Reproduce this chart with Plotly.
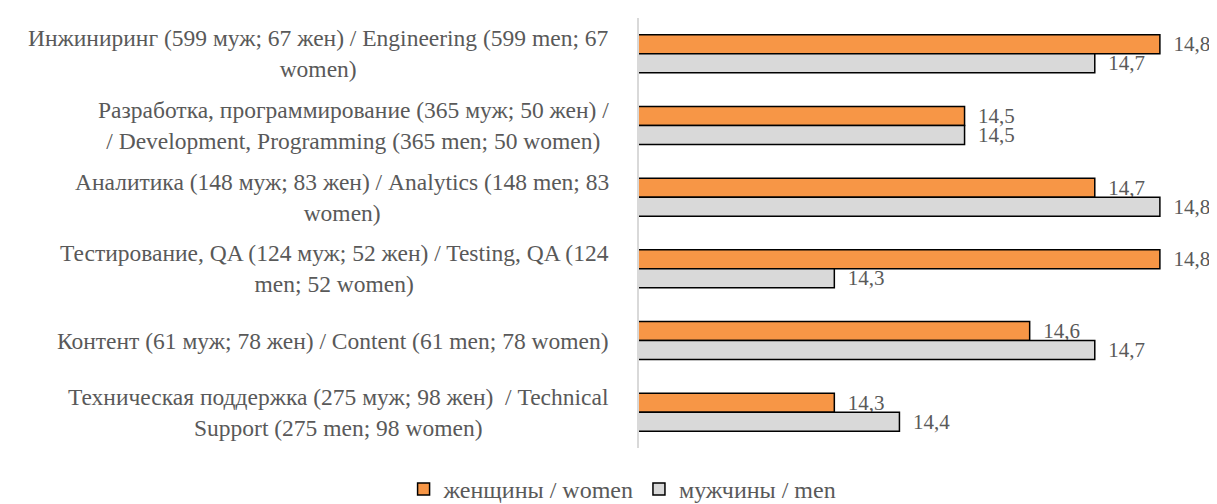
import plotly.graph_objects as go

categories = [
    "Инжиниринг (599 муж; 67 жен) / Engineering (599 men; 67<br>women)",
    "Разработка, программирование (365 муж; 50 жен) /<br>/ Development, Programming (365 men; 50 women)",
    "Аналитика (148 муж; 83 жен) / Analytics (148 men; 83<br>women)",
    "Тестирование, QA (124 муж; 52 жен) / Testing, QA (124<br>men; 52 women)",
    "Контент (61 муж; 78 жен) / Content (61 men; 78 women)",
    "Техническая поддержка (275 муж; 98 жен)  / Technical<br>Support (275 men; 98 women)",
]
women = [14.8, 14.5, 14.7, 14.8, 14.6, 14.3]
men = [14.7, 14.5, 14.8, 14.3, 14.7, 14.4]
series_names = ["женщины / women", "мужчины / men"]

FONT = "Liberation Serif, Times New Roman, serif"
TXT = "#595959"
PAD = "\u00a0\u00a0"

fig = go.Figure()
fig.add_trace(go.Bar(
    y=categories, x=women, orientation="h", name=series_names[0],
    marker=dict(color="#F79646", line=dict(color="#000000", width=1.5)),
    texttemplate=PAD + "%{x:.1f}", textposition="outside",
    constraintext="none", cliponaxis=False,
    textfont=dict(family=FONT, size=21, color=TXT),
))
fig.add_trace(go.Bar(
    y=categories, x=men, orientation="h", name=series_names[1],
    marker=dict(color="#D9D9D9", line=dict(color="#000000", width=1.5)),
    texttemplate=PAD + "%{x:.1f}", textposition="outside",
    constraintext="none", cliponaxis=False,
    textfont=dict(family=FONT, size=21, color=TXT),
))

for c in categories:
    fig.add_annotation(
        x=0, xref="paper", y=c, yref="y", xanchor="right", yanchor="middle",
        xshift=-28, text=c, showarrow=False, align="center",
        font=dict(family=FONT, size=23.5, color=TXT),
    )

fig.update_layout(
    width=1217, height=504,
    margin=dict(l=631, r=0, t=10, b=64),
    paper_bgcolor="white", plot_bgcolor="white",
    barmode="group", bargap=0.47, bargroupgap=0,
    separators=", ",
    showlegend=True,
    legend=dict(orientation="h", x=0.505, xanchor="center", xref="container",
                y=-0.012, yanchor="bottom", yref="container",
                font=dict(family=FONT, size=24, color=TXT),
                itemwidth=30, traceorder="normal"),
    font=dict(family=FONT, size=21, color=TXT),
)
fig.update_xaxes(range=[14.0, 14.9], showgrid=False, showticklabels=False,
                 zeroline=False, showline=False, ticks="")
fig.update_yaxes(autorange="reversed", showticklabels=False, showgrid=False,
                 showline=True, linecolor="#D9D9D9", linewidth=1.5, ticks="")

fig.write_html("out.html")
